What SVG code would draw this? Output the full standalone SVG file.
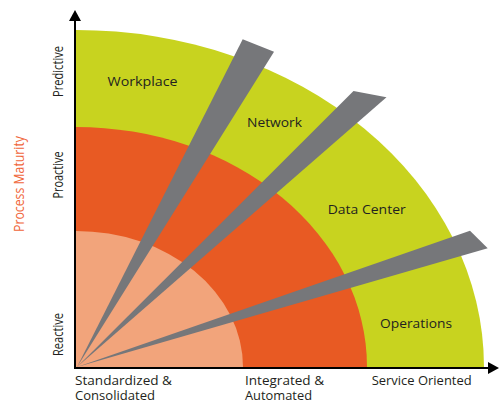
<svg xmlns="http://www.w3.org/2000/svg" width="499" height="403" viewBox="0 0 499 403">
  <style>
    .lbl { font-family: "Open Sans", "Noto Sans", "DejaVu Sans", sans-serif; font-size: 13px; fill: #231f20; }
    .ax { font-family: "Open Sans", "Noto Sans", "DejaVu Sans", sans-serif; font-size: 14px; fill: #231f20; text-anchor: middle; }
    .pm { font-family: "Open Sans", "Noto Sans", "DejaVu Sans", sans-serif; font-size: 14px; fill: #f0663a; text-anchor: middle; }
    .wedge { fill: #76777a; }
  </style>
  <rect width="499" height="403" fill="#ffffff"/>
  <g id="bands">
    <path id="band-outer" d="M76,367 L76,30 A408,337 0 0,1 484,367 Z" fill="#c8d31f"/>
    <path id="band-middle" d="M76,367 L76,127 A291,240 0 0,1 367,367 Z" fill="#e85a23"/>
    <path id="band-inner" d="M76,367 L76,231 A167,136 0 0,1 243,367 Z" fill="#f2a47b"/>
  </g>
  <g id="wedges">
    <polygon class="wedge" points="77,367 242.7,39.3 274,51.7"/>
    <polygon class="wedge" points="77,367 353.5,91 386.5,97.3"/>
    <polygon class="wedge" points="77,367 470,230.7 487.7,248.3"/>
  </g>
  <g id="axes">
    <line x1="75" y1="19" x2="75" y2="368" stroke="#000" stroke-width="2"/>
    <polygon points="75,10 69,21 81,21" fill="#000"/>
    <line x1="74" y1="368" x2="490" y2="368" stroke="#000" stroke-width="2"/>
    <polygon points="499,368 488,362 488,374" fill="#000"/>
  </g>
  <g id="region-labels">
    <text class="lbl" x="107.5" y="86" textLength="70" lengthAdjust="spacingAndGlyphs">Workplace</text>
    <text class="lbl" x="247" y="127" textLength="55" lengthAdjust="spacingAndGlyphs">Network</text>
    <text class="lbl" x="327.7" y="214" textLength="78" lengthAdjust="spacingAndGlyphs">Data Center</text>
    <text class="lbl" x="380" y="328" textLength="72" lengthAdjust="spacingAndGlyphs">Operations</text>
  </g>
  <g id="x-labels">
    <text class="lbl"><tspan x="75" y="385" textLength="97" lengthAdjust="spacingAndGlyphs">Standardized &amp;</tspan><tspan x="75" y="399.5" textLength="80" lengthAdjust="spacingAndGlyphs">Consolidated</tspan></text>
    <text class="lbl"><tspan x="245" y="385" textLength="79" lengthAdjust="spacingAndGlyphs">Integrated &amp;</tspan><tspan x="245" y="400" textLength="67" lengthAdjust="spacingAndGlyphs">Automated</tspan></text>
    <text class="lbl" x="371.7" y="385" textLength="100" lengthAdjust="spacingAndGlyphs">Service Oriented</text>
  </g>
  <g id="y-labels">
    <text class="ax" transform="translate(63,71.5) rotate(-90)" textLength="51" lengthAdjust="spacingAndGlyphs">Predictive</text>
    <text class="ax" transform="translate(63,175) rotate(-90)" textLength="47" lengthAdjust="spacingAndGlyphs">Proactive</text>
    <text class="ax" transform="translate(63,334.5) rotate(-90)" textLength="43" lengthAdjust="spacingAndGlyphs">Reactive</text>
    <text class="pm" transform="translate(23.5,184) rotate(-90)" textLength="96" lengthAdjust="spacingAndGlyphs">Process Maturity</text>
  </g>
</svg>
